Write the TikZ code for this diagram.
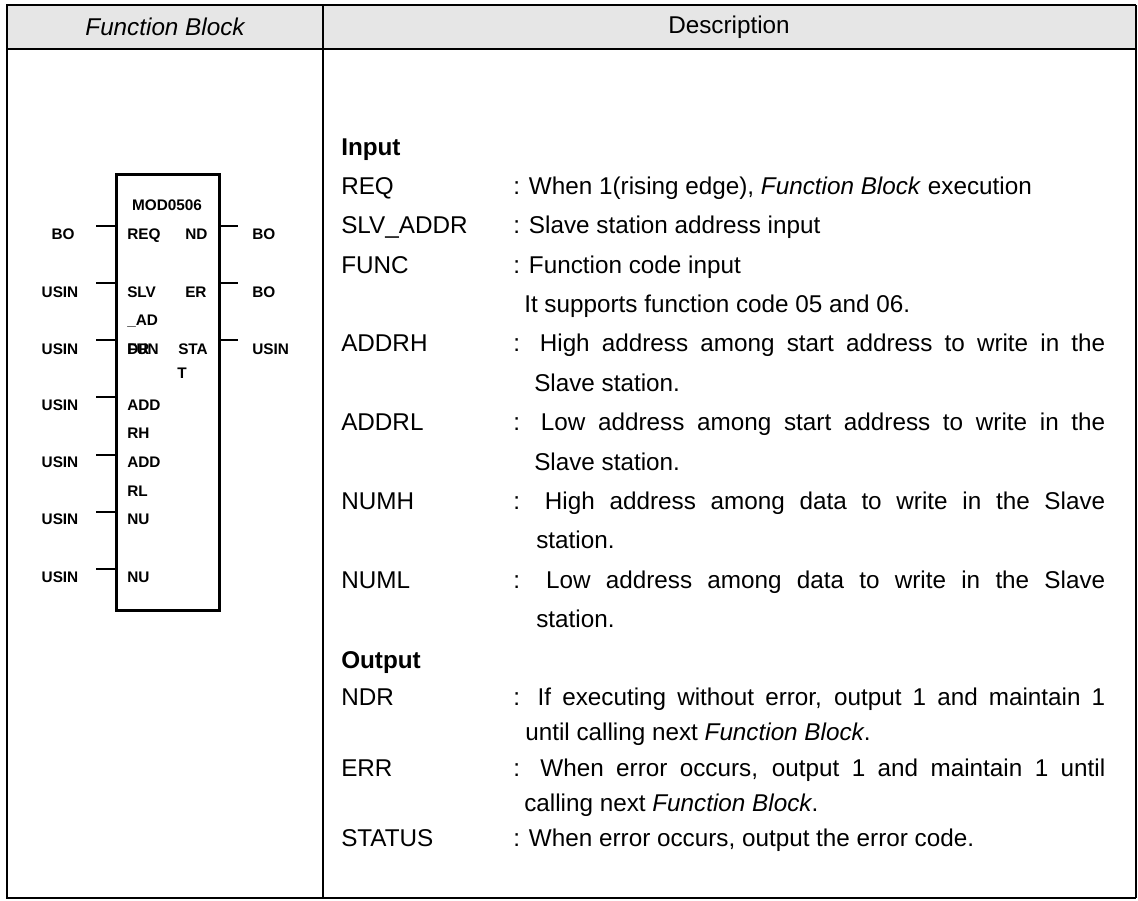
\documentclass[tikz,border=0pt]{standalone}
\usepackage{fontspec}
\setmainfont{Liberation Sans}
\definecolor{hdrgray}{HTML}{E6E6E6}
\newcommand\jline[1]{\makebox[444pt][s]{#1}}
\begin{document}
\begin{tikzpicture}[x=0.75pt,y=-0.75pt,
  hdrtext/.style={font=\fontsize{18.2}{20}\selectfont, inner sep=0pt},
  desc/.style={font=\fontsize{18.2}{20}\selectfont, inner sep=0pt, anchor=base west},
  fbl/.style={font=\fontsize{11.5}{12}\selectfont\bfseries, inner sep=0pt, anchor=base west},
  fbc/.style={font=\fontsize{11.5}{12}\selectfont\bfseries, inner sep=0pt, anchor=base},
  pin/.style={line width=2.2pt},
  rule/.style={line width=1.5pt},
  thickrule/.style={line width=2.2pt}]
\useasboundingbox (0,0) rectangle (1138,900);
% table
\fill[hdrgray] (7,5) rectangle (1136,49);
\draw[thickrule] (7,5) -- (1136,5);
\draw[thickrule] (7,4) -- (7,899);
\draw[rule] (1136,5) -- (1136,898);
\draw[rule] (7,49) -- (1136,49);
\draw[rule] (323,5) -- (323,898);
\draw[rule] (7,898) -- (1136,898);
\node[hdrtext] (h1) at (165,27) {\itshape Function Block};
\node[hdrtext] (h2) at (729,27) {Description};
% function block
\node[draw, line width=2.2pt, anchor=north west, minimum width=77.25pt, minimum height=327pt, inner sep=0pt] (fb) at (115,173) {};
\node[fbc] (title) at (167,210.5) {MOD0506};
\foreach \y/\n in {226/a,283/b,340/c,397/d,455/e,512/f,569/g}{
  \coordinate (L\n) at (96,\y);
  \draw[pin] (L\n) -- (fb.west |- L\n);
}
\foreach \y/\n in {226/a,283/b,340/c}{
  \coordinate (R\n) at (238,\y);
  \draw[pin] (fb.east |- R\n) -- (R\n);
}
\node[fbc] (t1) at (63,239.5) {BO};
\node[fbc] (t2) at (60,297.5) {USIN};
\node[fbc] (t3) at (60,354.5) {USIN};
\node[fbc] (t4) at (60,410.5) {USIN};
\node[fbc] (t5) at (60,467.5) {USIN};
\node[fbc] (t6) at (60,524.5) {USIN};
\node[fbc] (t7) at (60,582.5) {USIN};
\node[fbl] (o1) at (252,239.5) {BO};
\node[fbl] (o2) at (252,297.5) {BO};
\node[fbl] (o3) at (252,354.5) {USIN};
\node[fbl] (i1) at (127,239.5) {REQ};
\node[fbl] (i2) at (127,297.5) {SLV};
\node[fbl] (i2b) at (127,325.5) {\_AD};
\node[fbl] (i2c) at (127,354.5) {DR};
\node[fbl] (i3) at (127,354.5) {FUN};
\node[fbl] (i4) at (127,410.5) {ADD};
\node[fbl] (i4b) at (127,438.5) {RH};
\node[fbl] (i5) at (127,467.5) {ADD};
\node[fbl] (i5b) at (127,496.5) {RL};
\node[fbl] (i6) at (127,524.5) {NU};
\node[fbl] (i7) at (127,582.5) {NU};
\node[fbl] (q1) at (185,239.5) {ND};
\node[fbl] (q2) at (185,297.5) {ER};
\node[fbl] (q3) at (178,354.5) {STA};
\node[fbc] (q3b) at (182,378.5) {T};
% description
\node[desc] (in) at (341,155.7) {\bfseries Input};
\node[desc] (n1) at (341,194.7) {REQ};
\node[desc] (d1) at (513,194.7) {: When 1(rising edge), \textit{Function Block} execution};
\node[desc] (n2) at (341,233.7) {SLV\_ADDR};
\node[desc] (d2) at (513,233.7) {: Slave station address input};
\node[desc] (n3) at (341,273.7) {FUNC};
\node[desc] (d3) at (513,273.7) {: Function code input};
\node[desc] (d3b) at (524,312.7) {It supports function code 05 and 06.};
\node[desc] (n4) at (341,351.7) {ADDRH};
\node[desc] (d4) at (513,351.7) {\jline{: High address among start address to write in the}};
\node[desc] (d4b) at (534,391.7) {Slave station.};
\node[desc] (n5) at (341,430.7) {ADDRL};
\node[desc] (d5) at (513,430.7) {\jline{: Low address among start address to write in the}};
\node[desc] (d5b) at (534,470.7) {Slave station.};
\node[desc] (n6) at (341,509.7) {NUMH};
\node[desc] (d6) at (513,509.7) {\jline{: High address among data to write in the Slave}};
\node[desc] (d6b) at (536,548.7) {station.};
\node[desc] (n7) at (341,588.7) {NUML};
\node[desc] (d7) at (513,588.7) {\jline{: Low address among data to write in the Slave}};
\node[desc] (d7b) at (536,627.7) {station.};
\node[desc] (out) at (341,668.7) {\bfseries Output};
\node[desc] (n8) at (341,705.7) {NDR};
\node[desc] (d8) at (513,705.7) {\jline{: If executing without error, output 1 and maintain 1}};
\node[desc] (d8b) at (525,740.2) {until calling next \textit{Function Block}.};
\node[desc] (n9) at (341,776.7) {ERR};
\node[desc] (d9) at (513,776.7) {\jline{: When error occurs, output 1 and maintain 1 until}};
\node[desc] (d9b) at (524,811.7) {calling next \textit{Function Block}.};
\node[desc] (n10) at (341,846.7) {STATUS};
\node[desc] (d10) at (513,846.7) {: When error occurs, output the error code.};
\end{tikzpicture}
\end{document}
